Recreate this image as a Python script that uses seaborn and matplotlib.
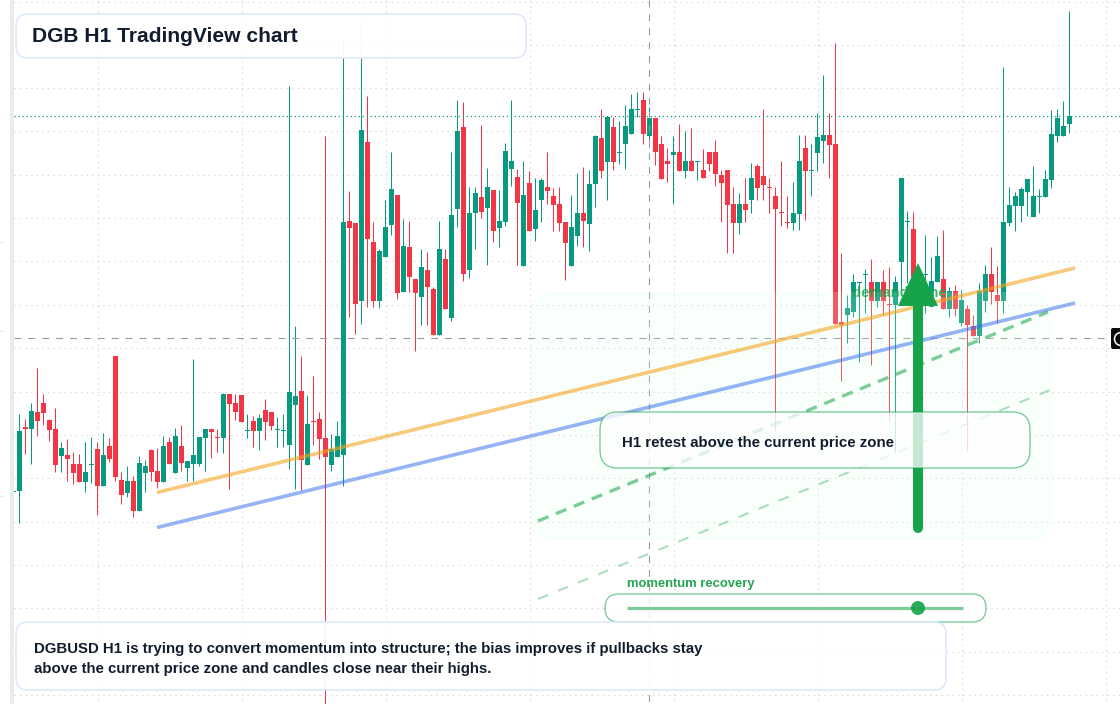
import matplotlib
matplotlib.use("Agg")
import matplotlib.pyplot as plt
from matplotlib.patches import FancyBboxPatch, Polygon, Circle, Rectangle
import numpy as np
import pandas as pd
import seaborn as sns

# Candle data (price axis is the chart's own inverted scale); ten bars per row
body_top = [431,427,411,412,403,420,429,448,455,464,
            464,472,464,449,455,446,356,480,481,481,
            463,466,450,471,446,442,436,446,461,455,
            437,429,429,437,394,394,403,395,430,421,
            418,410,412,429,430,392,396,391,424,421,
            419,438,449,436,222,221,223,130,142,242,
            251,227,189,195,246,247,279,267,270,289,
            249,259,215,131,127,213,193,197,187,190,
            221,151,161,177,195,183,210,180,187,196,
            204,222,227,213,213,184,136,138,117,127,
            152,126,109,109,100,118,118,144,161,152,
            152,161,161,161,170,152,152,175,170,204,
            204,204,178,166,176,187,196,212,222,213,
            161,148,170,137,135,135,144,322,308,282,
            282,274,282,282,282,304,282,178,221,229,
            285,274,281,256,279,291,291,300,309,326,
            291,274,274,295,222,205,196,189,179,196,
            196,179,134,118,126,116]
body_bot = [491,429,429,421,413,430,465,456,459,473,
            482,482,465,486,486,459,477,495,493,511,
            511,473,472,482,482,464,473,463,468,464,
            464,438,432,438,438,404,412,422,431,431,
            431,422,426,430,431,445,405,460,465,422,
            439,457,465,457,455,228,304,301,239,301,
            301,257,225,293,292,277,293,297,287,335,
            335,309,318,209,274,270,213,212,208,231,
            228,222,169,203,266,231,229,200,191,205,
            223,243,266,236,221,224,184,171,162,162,
            153,144,134,110,134,136,152,179,164,155,
            171,171,171,162,178,164,174,183,205,223,
            223,210,200,188,185,188,209,213,223,223,
            214,171,171,153,141,145,324,325,315,312,
            283,275,301,301,301,305,305,262,222,277,
            300,275,307,282,309,309,309,323,325,336,
            336,301,292,301,301,223,206,206,192,217,
            197,197,180,136,136,124]
wick_top = [414,419,403,368,394,419,408,442,439,452,
            454,442,437,442,433,438,356,472,466,476,
            456,460,449,448,436,437,428,425,461,359,
            437,429,429,429,393,394,394,395,414,416,
            414,399,412,417,414,86,326,356,395,376,
            412,136,434,421,41,191,223,20,96,222,
            249,200,152,195,219,221,279,249,252,287,
            221,249,152,100,102,187,187,125,168,190,
            190,143,100,169,161,171,178,178,152,188,
            187,222,195,173,167,170,135,109,117,117,
            121,105,94,92,92,107,118,136,148,136,
            124,131,128,161,149,152,140,170,170,187,
            193,178,163,164,109,178,187,161,196,182,
            135,135,144,113,75,113,43,253,295,274,
            282,269,259,282,270,267,276,178,211,212,
            280,235,257,236,230,287,285,290,305,315,
            283,265,247,266,67,187,192,187,179,166,
            189,170,110,109,101,11]
wick_bot = [523,454,464,436,425,441,472,472,481,484,
            482,492,483,515,486,462,481,504,497,517,
            511,492,481,488,482,464,473,471,481,481,
            466,471,458,452,453,489,420,422,438,447,
            450,440,430,447,447,469,489,490,465,445,
            459,704,471,457,486,317,334,324,307,307,
            308,257,235,299,292,292,351,325,325,335,
            335,309,321,227,281,278,249,218,265,242,
            247,226,186,265,266,231,241,222,204,231,
            231,280,266,246,247,251,207,178,200,170,
            164,169,134,117,144,147,165,179,182,204,
            171,178,171,180,178,171,186,222,253,253,
            234,222,213,200,200,213,431,226,228,230,
            230,220,196,171,163,178,324,381,343,317,
            362,313,365,307,315,421,453,290,283,280,
            300,313,307,282,309,317,316,326,451,336,
            343,312,304,323,313,226,231,222,216,217,
            213,197,188,142,136,133]
rising =   [1,0,1,0,0,0,0,1,0,0,
            0,1,1,0,1,0,0,0,1,0,
            1,1,0,0,1,0,1,0,1,1,
            1,1,0,0,1,0,0,0,1,0,
            1,0,0,1,1,1,1,0,1,0,
            0,0,1,1,1,0,0,1,0,0,
            1,1,1,0,1,0,0,1,0,0,
            1,0,1,1,0,1,1,0,1,0,
            1,1,1,0,1,0,1,1,0,0,
            0,0,1,1,0,1,1,0,1,0,
            1,1,1,1,0,1,0,0,0,1,
            0,1,0,1,0,0,0,0,0,0,
            1,0,1,0,0,0,0,0,0,1,
            1,0,1,1,1,0,0,0,1,1,
            1,1,0,1,0,0,1,1,1,0,
            1,1,1,1,0,1,0,1,0,0,
            1,1,0,0,1,1,1,1,1,1,
            1,1,1,1,1,1]

GREEN_UP = "#089981"
RED_DOWN = "#F23645"
ACCENT = "#16A34A"
INK = "#111C2D"

grid_rows = [1.7, 45, 88, 131, 175, 218, 261, 305, 348, 392, 435, 478, 522, 565, 608, 652, 695]
grid_cols = [97.5, 241.7, 385.7, 529.7, 673.7, 817.7, 961.7, 1105.7]
edge_ticks = [242, 331, 496]

orange_x, orange_y = [157, 1075], [492.5, 268]
blue_x, blue_y = [157, 1075], [527.5, 303]
dash_x, dash_y = [538, 1048], [521, 312]
faint_x, faint_y = [538, 1050], [599, 390]

title_text = "DGB H1 TradingView chart"
note_text = "H1 retest above the current price zone"
zone_text = "demand zone"
slider_text = "momentum recovery"
body_lines = ["DGBUSD H1 is trying to convert momentum into structure; the bias improves if pullbacks stay",
              "above the current price zone and candles close near their highs."]

sns.set_theme(style="white")
plt.rcParams["font.family"] = ["Liberation Sans", "DejaVu Sans"]

fig = plt.figure(figsize=(11.2, 7.04), dpi=100, facecolor="white")

# candle axes: x in bar index, y in chart level
ax = fig.add_axes([0, 0, 1, 1])
ax.set_xlim(-19.3 / 6, (1120 - 19.3) / 6)
ax.set_ylim(704, 0)
ax.axis("off")

# overlay axes for the annotation layer
ov = fig.add_axes([0, 0, 1, 1], zorder=5)
ov.set_xlim(0, 1120)
ov.set_ylim(704, 0)
ov.axis("off")
ov.patch.set_alpha(0)

pix = ov.transData
for y in grid_rows:
    ax.plot([14, 1120], [y, y], transform=pix, color="#d6d6d6", lw=0.72, ls=(0, (1.4, 4.15)), zorder=1)
for x in grid_cols:
    ax.plot([x, x], [0, 704], transform=pix, color="#d6d6d6", lw=0.72, ls=(0, (1.4, 4.15)), zorder=1)

# candles
df = pd.DataFrame({"top": body_top, "bot": body_bot, "hi": wick_top, "lo": wick_bot, "up": rising})
df["i"] = np.arange(len(df))
df["color"] = np.where(df["up"] == 1, GREEN_UP, RED_DOWN)
ax.vlines(df["i"], df["hi"], df["lo"], colors=df["color"], lw=0.72, zorder=3)
ax.bar(df["i"], (df["bot"] - df["top"]).clip(lower=1.2), bottom=df["top"], width=5 / 6, color=df["color"], linewidth=0, zorder=3)
ax.bar([-1], [1.2], bottom=[490.5], width=5 / 6, color=GREEN_UP, linewidth=0, zorder=3)
ax.add_patch(Rectangle((10, 0), 4, 704, transform=pix, fc="#ebebeb", ec="none", zorder=3.5))
ax.add_patch(Rectangle((0, 0), 10, 704, transform=pix, fc="white", ec="none", zorder=3.4))
for y in edge_ticks:
    ax.plot([0, 2.5], [y, y], transform=pix, color="#e6e6e6", lw=0.8, zorder=3.6)

# horizontal guides and crosshair
ax.plot([14, 1120], [116, 116], transform=pix, color=GREEN_UP, lw=0.85, ls=(0, (1.1, 2.29)), zorder=4)
ax.plot([14, 1111], [338, 338], transform=pix, color="#9a9a9a", lw=0.8, ls=(0, (6.2, 6.3)), zorder=4)
ax.plot([649, 649], [0, 704], transform=pix, color="#9a9a9a", lw=0.8, ls=(0, (6.2, 6.3)), zorder=4)

# zone
ov.add_patch(FancyBboxPatch((531, 292), 521, 247, boxstyle="round,pad=0,rounding_size=18",
                            fc="#e2ffec", ec="none", alpha=0.18, zorder=1))
ov.text(852, 293, zone_text, color=ACCENT, alpha=0.8, fontsize=10.6, fontweight="bold", va="center", ha="left", zorder=2)

# trend lines
sns.lineplot(x=orange_x, y=orange_y, ax=ov, color="#F5A623", lw=2.6, alpha=0.6, zorder=3, solid_capstyle="butt", estimator=None, legend=False)
sns.lineplot(x=blue_x, y=blue_y, ax=ov, color="#2F6BEB", lw=2.6, alpha=0.5, zorder=3, solid_capstyle="butt", estimator=None, legend=False)
sns.lineplot(x=dash_x, y=dash_y, ax=ov, color=ACCENT, lw=2.4, alpha=0.55, zorder=3, linestyle=(0, (3.4, 2.4)), dash_capstyle="butt", estimator=None, legend=False)
sns.lineplot(x=faint_x, y=faint_y, ax=ov, color=ACCENT, lw=1.5, alpha=0.35, zorder=3, linestyle=(0, (5.2, 5.2)), dash_capstyle="butt", estimator=None, legend=False)

# arrow
ov.plot([918, 918], [527.5, 304], color=ACCENT, lw=7.2, solid_capstyle="round", zorder=4)
ov.add_patch(Polygon([[918, 263], [938, 306], [898, 306]], closed=True, fc=ACCENT, ec="none", zorder=4))

# panels
def panel(x, y, w, h, r, edge, alpha, z, ealpha=1.0, lw=1.1):
    ov.add_patch(FancyBboxPatch((x, y), w, h, boxstyle=f"round,pad=0,rounding_size={r}",
                                fc=(1, 1, 1, alpha), ec=matplotlib.colors.to_rgba(edge, ealpha), lw=lw, zorder=z))

panel(600, 412, 430, 56, 18, ACCENT, 0.76, 5, 0.55, 1.0)
panel(605, 594, 381, 28, 14, ACCENT, 0.8, 5, 0.55, 1.0)
panel(16, 14, 510, 44, 12, "#DBE7FB", 0.94, 6)
panel(16, 622, 930, 68, 12, "#DBE7FB", 0.93, 6)

ov.text(622, 443, note_text, color=INK, fontsize=10.85, fontweight="bold", va="center", zorder=7)
ov.text(627, 584, slider_text, color="#22A652", fontsize=9.4, fontweight="bold", va="center", zorder=7)
ov.plot([627, 963], [608, 608], color=ACCENT, lw=2.3, alpha=0.55, solid_capstyle="butt", zorder=6)
ov.add_patch(Circle((918, 608), 7, fc=ACCENT, ec="none", alpha=0.9, zorder=7))
ov.text(32, 37, title_text, color=INK, fontsize=15.15, fontweight="bold", va="center", zorder=7)
ov.text(34, 649, body_lines[0], color=INK, fontsize=10.8, fontweight="bold", va="center", zorder=7)
ov.text(34, 669, body_lines[1], color=INK, fontsize=10.8, fontweight="bold", va="center", zorder=7)

# right-hand badge
ov.add_patch(FancyBboxPatch((1111, 328), 20, 21, boxstyle="round,pad=0,rounding_size=2", fc="#0b0b0b", ec="none", zorder=7))
ov.add_patch(Circle((1121, 339), 6.5, fc="none", ec="white", lw=1.1, zorder=8))

ov.set_xlim(0, 1120)
ov.set_ylim(704, 0)

fig.savefig("out.png", dpi=100)
